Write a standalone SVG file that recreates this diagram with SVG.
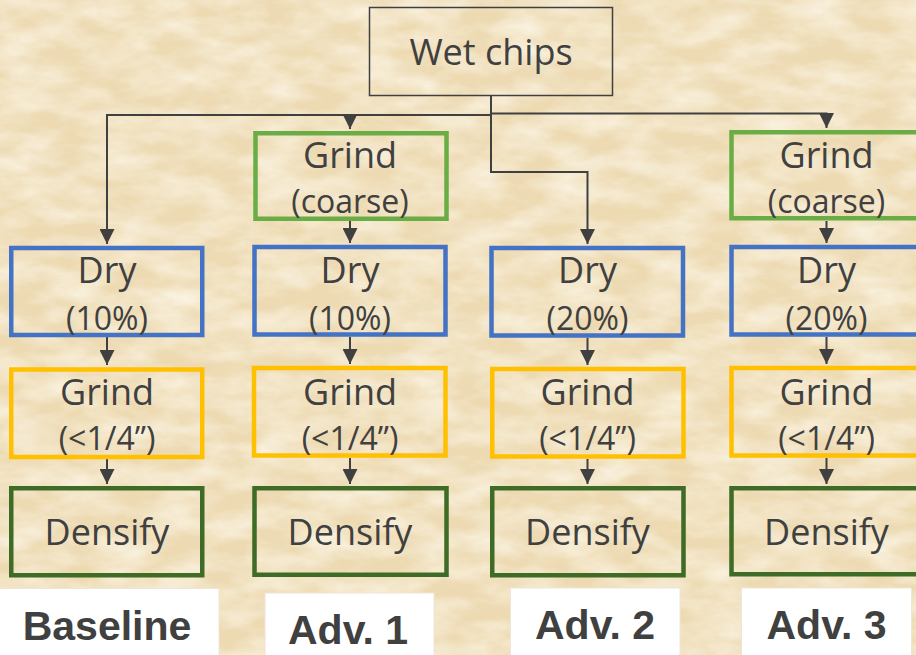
<svg xmlns="http://www.w3.org/2000/svg" width="916" height="655" viewBox="0 0 916 655">
  <defs>
    <!-- parchment mottling: pale flecks over a tan base, plus darker streaks -->
    <filter id="light" x="0" y="0" width="100%" height="100%" filterUnits="userSpaceOnUse">
      <feTurbulence type="fractalNoise" baseFrequency="0.02 0.045" numOctaves="4" seed="7"/>
      <feColorMatrix type="matrix" values="0 0 0 0 0.965  0 0 0 0 0.91  0 0 0 0 0.78  1.6 0 0 0 -0.5"/>
    </filter>
    <filter id="dark" x="0" y="0" width="100%" height="100%" filterUnits="userSpaceOnUse">
      <feTurbulence type="fractalNoise" baseFrequency="0.012 0.05" numOctaves="4" seed="21"/>
      <feColorMatrix type="matrix" values="0 0 0 0 0.86  0 0 0 0 0.75  0 0 0 0 0.55  2.0 0 0 0 -1.0"/>
    </filter>
    <marker id="arrow" viewBox="0 0 10 10" refX="10" refY="5" markerWidth="7.5" markerHeight="7.5" markerUnits="strokeWidth" orient="auto">
      <path d="M0,0 L10,5 L0,10 z" fill="#404040"/>
    </marker>
    <style>
      .lbl { font-family: "Open Sans", "Noto Sans", sans-serif; fill: #404040; text-anchor: middle; }
      .big { font-size: 36px; }
      .sub { font-size: 32px; }
      .tag { font-family: "Liberation Sans", Arial, sans-serif; font-weight: bold; font-size: 41px; fill: #404040; text-anchor: middle; }
      .box { fill: none; stroke-width: 4.5; }
      .coarse { stroke: #6AAD45; }
      .dry { stroke: #4472C4; }
      .fine { stroke: #FFC000; }
      .dens { stroke: #3E6B25; }
      .tagbox { fill: #FFFFFF; stroke: #EDE6D6; stroke-width: 1; }
      .wire { fill: none; stroke: #404040; stroke-width: 2; }
    </style>
  </defs>

  <!-- background -->
  <rect width="916" height="655" fill="#EDDAB2"/>
  <rect width="916" height="655" filter="url(#light)"/>
  <rect width="916" height="655" filter="url(#dark)" opacity="0.35"/>

  <!-- connectors -->
  <g id="connectors">
    <path class="wire" d="M491,96 V115 H107 V244" marker-end="url(#arrow)"/>
    <path class="wire" d="M350,115 V129" marker-end="url(#arrow)"/>
    <path class="wire" d="M491,96 V113.5 H826.5 V128" marker-end="url(#arrow)"/>
    <path class="wire" d="M491,96 V172 H587.5 V244" marker-end="url(#arrow)"/>

    <path class="wire" d="M350,221 V243" marker-end="url(#arrow)"/>
    <path class="wire" d="M826.5,221 V243" marker-end="url(#arrow)"/>

    <path class="wire" d="M107,337 V365" marker-end="url(#arrow)"/>
    <path class="wire" d="M350,337 V364" marker-end="url(#arrow)"/>
    <path class="wire" d="M587.5,338 V365" marker-end="url(#arrow)"/>
    <path class="wire" d="M826.5,337 V364" marker-end="url(#arrow)"/>

    <path class="wire" d="M107,459 V484" marker-end="url(#arrow)"/>
    <path class="wire" d="M350,458 V484" marker-end="url(#arrow)"/>
    <path class="wire" d="M587.5,459 V484" marker-end="url(#arrow)"/>
    <path class="wire" d="M826.5,458 V484" marker-end="url(#arrow)"/>
  </g>

  <!-- source -->
  <g id="wet-chips">
    <rect x="369.5" y="7.5" width="243" height="88" fill="none" stroke="#404040" stroke-width="1.5"/>
    <text class="lbl big" x="491" y="65">Wet chips</text>
  </g>

  <!-- Baseline column -->
  <g id="base-dry">
    <rect class="box dry" x="11.25" y="248" width="191" height="87"/>
    <text class="lbl big" x="107" y="283">Dry</text>
    <text class="lbl sub" x="107" y="330">(10%)</text>
  </g>
  <g id="base-grind">
    <rect class="box fine" x="11.25" y="369.5" width="191" height="87.5"/>
    <text class="lbl big" x="107" y="405">Grind</text>
    <text class="lbl sub" x="107" y="450">(&lt;1/4”)</text>
  </g>
  <g id="base-densify">
    <rect class="box dens" x="11.25" y="488.25" width="191" height="87"/>
    <text class="lbl big" x="107" y="545">Densify</text>
  </g>
  <g id="tag-baseline">
    <rect class="tagbox" x="-1" y="588.5" width="220" height="70"/>
    <text class="tag" x="107" y="640">Baseline</text>
  </g>

  <!-- Adv. 1 column -->
  <g id="adv1-coarse">
    <rect class="box coarse" x="255.5" y="133.25" width="191" height="85.5"/>
    <text class="lbl big" x="350" y="168">Grind</text>
    <text class="lbl sub" x="350" y="213">(coarse)</text>
  </g>
  <g id="adv1-dry">
    <rect class="box dry" x="254.5" y="247" width="191" height="87.5"/>
    <text class="lbl big" x="350" y="283">Dry</text>
    <text class="lbl sub" x="350" y="330">(10%)</text>
  </g>
  <g id="adv1-grind">
    <rect class="box fine" x="254" y="368" width="191.5" height="87.5"/>
    <text class="lbl big" x="350" y="405">Grind</text>
    <text class="lbl sub" x="350" y="450">(&lt;1/4”)</text>
  </g>
  <g id="adv1-densify">
    <rect class="box dens" x="254.5" y="488.25" width="192" height="86.5"/>
    <text class="lbl big" x="350" y="545">Densify</text>
  </g>
  <g id="tag-adv1">
    <rect class="tagbox" x="265" y="593" width="169" height="66"/>
    <text class="tag" x="348" y="644">Adv. 1</text>
  </g>

  <!-- Adv. 2 column -->
  <g id="adv2-dry">
    <rect class="box dry" x="491.5" y="248" width="191.5" height="87.5"/>
    <text class="lbl big" x="587.5" y="283">Dry</text>
    <text class="lbl sub" x="587.5" y="330">(20%)</text>
  </g>
  <g id="adv2-grind">
    <rect class="box fine" x="492.25" y="369" width="191.25" height="87.5"/>
    <text class="lbl big" x="587.5" y="405">Grind</text>
    <text class="lbl sub" x="587.5" y="450">(&lt;1/4”)</text>
  </g>
  <g id="adv2-densify">
    <rect class="box dens" x="492.25" y="488.25" width="191.25" height="87"/>
    <text class="lbl big" x="587.5" y="545">Densify</text>
  </g>
  <g id="tag-adv2">
    <rect class="tagbox" x="510.5" y="588" width="169.5" height="70"/>
    <text class="tag" x="595" y="639">Adv. 2</text>
  </g>

  <!-- Adv. 3 column -->
  <g id="adv3-coarse">
    <rect class="box coarse" x="731.5" y="132.25" width="191" height="86"/>
    <text class="lbl big" x="826.5" y="168">Grind</text>
    <text class="lbl sub" x="826.5" y="213">(coarse)</text>
  </g>
  <g id="adv3-dry">
    <rect class="box dry" x="731.5" y="247" width="191" height="87.5"/>
    <text class="lbl big" x="826.5" y="283">Dry</text>
    <text class="lbl sub" x="826.5" y="330">(20%)</text>
  </g>
  <g id="adv3-grind">
    <rect class="box fine" x="731.5" y="368" width="191" height="87.5"/>
    <text class="lbl big" x="826.5" y="405">Grind</text>
    <text class="lbl sub" x="826.5" y="450">(&lt;1/4”)</text>
  </g>
  <g id="adv3-densify">
    <rect class="box dens" x="731.5" y="488.25" width="191" height="86"/>
    <text class="lbl big" x="826.5" y="545">Densify</text>
  </g>
  <g id="tag-adv3">
    <rect class="tagbox" x="741.5" y="588" width="170" height="70"/>
    <text class="tag" x="826.5" y="639">Adv. 3</text>
  </g>
</svg>
